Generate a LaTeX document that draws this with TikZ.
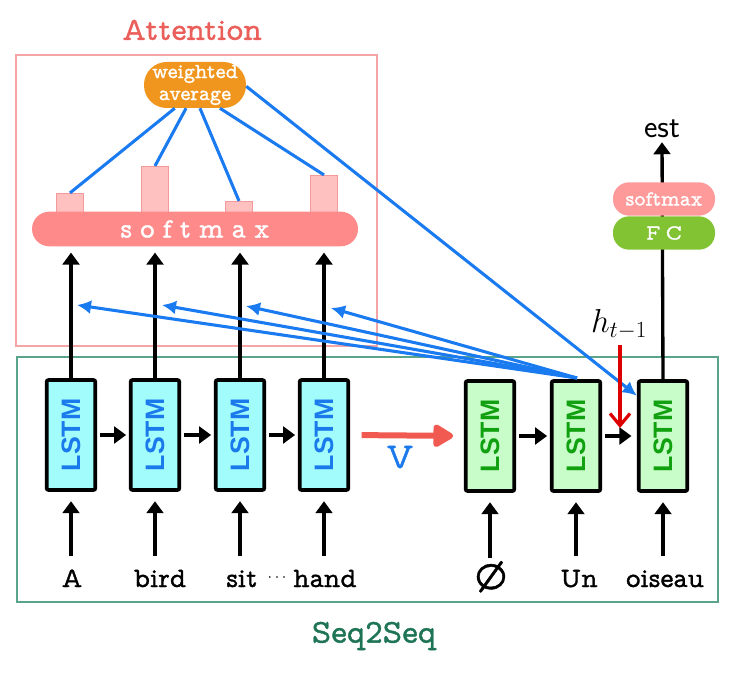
\documentclass[tikz,border=0pt]{standalone}
\usepackage{fontspec}
\usepackage{graphicx}
\newfontfamily\lstmfont{Liberation Sans}
\newfontfamily\tw{Latin Modern Mono Prop}[FakeBold=1.2]
\usetikzlibrary{arrows.meta,calc}
\definecolor{attnred}{HTML}{EB5F5A}
\definecolor{attnbox}{HTML}{F5A5A5}
\definecolor{wavgorange}{HTML}{F0961E}
\definecolor{smxpink}{HTML}{FF8A8A}
\definecolor{barfill}{HTML}{FFC0C0}
\definecolor{barline}{HTML}{F59A9A}
\definecolor{bluel}{HTML}{1A7AF0}
\definecolor{cyanfill}{HTML}{A2FCFC}
\definecolor{lstmblue}{HTML}{1A7AEB}
\definecolor{greenfill}{HTML}{C8FCC8}
\definecolor{lstmgreen}{HTML}{10A010}
\definecolor{seqbox}{HTML}{5AA58A}
\definecolor{seqtext}{HTML}{1E7455}
\definecolor{vred}{HTML}{F05A50}
\definecolor{hred}{HTML}{DD0000}
\definecolor{fcgreen}{HTML}{82C334}
\definecolor{smxtwo}{HTML}{FF9A9A}
\tikzset{
  lstmE/.style={draw=black, line width=2.8pt, fill=cyanfill, rounded corners=1.5pt,
    minimum width=36.5pt, minimum height=82.5pt, inner sep=0pt, text=lstmblue,
    font=\lstmfont\bfseries\fontsize{20}{20}\selectfont},
  lstmD/.style={lstmE, fill=greenfill, text=lstmgreen},
  word/.style={font=\tw\fontsize{21}{22}\selectfont, inner sep=0pt, anchor=base, text height=14pt, text depth=4pt},
  arr/.style={line width=2.5pt, -{Triangle[length=9pt,width=12.5pt]}},
  attnline/.style={bluel, line width=2.3pt},
  attnarr/.style={bluel, line width=2.3pt, -{Latex[length=10.5pt,width=10.5pt]}},
  barbox/.style={draw=barline, fill=barfill, line width=0.8pt, minimum width=20pt, inner sep=0pt, anchor=south},
  pill/.style={text=white, inner sep=0pt, font=\tw\fontsize{16}{18}\selectfont},
  frame/.style={inner sep=0pt, line width=0.8pt},
}
\begin{document}
\begin{tikzpicture}[x=0.75pt,y=-0.75pt]
\useasboundingbox (0,0) rectangle (742,677);

% frames
\node[frame, draw=attnbox, minimum width=270.75pt, minimum height=218.25pt] (attnframe) at (196.5,200.5) {};
\node[frame, draw=seqbox, minimum width=525.75pt, minimum height=183.75pt] (seqframe) at (367.5,479.5) {};
\node[text=attnred, font=\tw\fontsize{24}{26}\selectfont] (attntitle) at (192,30) {Attention};
\node[text=seqtext, font=\tw\fontsize{25}{27}\selectfont] (seqtitle) at (374,636) {Seq2Seq};

% LSTM nodes
\node[lstmE] (enc1) at (71,435) {\rotatebox{90}{LSTM}};
\node[lstmE] (enc2) at (155,435) {\rotatebox{90}{LSTM}};
\node[lstmE] (enc3) at (240,435) {\rotatebox{90}{LSTM}};
\node[lstmE] (enc4) at (324,435) {\rotatebox{90}{LSTM}};
\node[lstmD] (dec1) at (490,436) {\rotatebox{90}{LSTM}};
\node[lstmD] (dec2) at (576,436) {\rotatebox{90}{LSTM}};
\node[lstmD] (dec3) at (663,436) {\rotatebox{90}{LSTM}};

% words
\node[word] (wA) at (72,587) {A};
\node[word] (wbird) at (160,587) {bird};
\node[word] (wsit) at (242,587) {sit};
\node[inner sep=0pt, font=\fontsize{13}{13}\selectfont] (wdots) at (277,578) {$\cdots$};
\node[word] (whand) at (325,587) {hand};
\node[word, font=\tw\fontsize{30}{32}\selectfont] (wnull) at (491,589) {\O};
\node[word] (wUn) at (579,587) {Un};
\node[word] (woiseau) at (665,587) {oiseau};

% input arrows
\foreach \w/\e in {wA/enc1, wbird/enc2, wsit/enc3, whand/enc4, wnull/dec1, wUn/dec2, woiseau/dec3}
  \draw[arr, shorten <=9pt, shorten >=7pt] (\w.north -| \e.south) -- (\e.south);

% recurrent arrows
\draw[arr, shorten <=2pt, shorten >=2pt] (enc1.east) -- (enc2.west);
\draw[arr, shorten <=2pt, shorten >=2pt] (enc2.east) -- (enc3.west);
\draw[arr, shorten <=2pt, shorten >=2pt] (enc3.east) -- (enc4.west);
\draw[arr, shorten <=2pt, shorten >=2pt] (dec1.east) -- (dec2.west);
\draw[arr, shorten <=2pt, shorten >=4pt] (dec2.east) -- (dec3.west);

% context vector arrow
\draw[vred, line width=4.5pt, -{Triangle[length=17pt,width=19pt,round]}, shorten <=8.5pt, shorten >=8pt] (enc4.east) -- (dec1.west);
\node[text=lstmblue, font=\tw\fontsize{27}{28}\selectfont] (vlabel) at (400,457) {V};

% attention bars and softmax
\node[barbox, minimum height=19.5pt] (bar1) at (70,220) {};
\node[barbox, minimum height=39.75pt] (bar2) at (155,220) {};
\node[barbox, minimum height=13.5pt] (bar3) at (239,220) {};
\node[barbox, minimum height=33pt] (bar4) at (324,220) {};
\node[fill=smxpink, rounded corners=13pt, minimum width=244.5pt, minimum height=26pt, inner sep=0pt,
  text=white, font=\tw\fontsize{21}{22}\selectfont] (smx) at (195,229)
  {s\hspace{6pt}o\hspace{6pt}f\hspace{6pt}t\hspace{6pt}m\hspace{6pt}a\hspace{6pt}x};

% vertical encoder outputs to softmax
\foreach \e in {enc1,enc2,enc3,enc4}
  \draw[arr, shorten >=4.5pt] (\e.north) -- (\e.north |- smx.south);

% weighted average
\node[pill, fill=wavgorange, rounded corners=17pt, minimum width=76.5pt, minimum height=34.5pt, align=center,
  font=\tw\fontsize{16}{16.5}\selectfont] (wavg) at (195,85) {weighted\\average};
\draw[attnline] (wavg.229) -- (bar1.north);
\draw[attnline] (wavg.249) -- (bar2.north);
\draw[attnline] (wavg.282) -- (bar3.north);
\draw[attnline] (wavg.317) -- (bar4.north);

% attention arrows from decoder state back to encoder outputs
\coordinate (t1) at (77,305);
\coordinate (t2) at (162,305);
\coordinate (t3) at (246,306);
\coordinate (t4) at (331,308);
\coordinate (src) at (577,378);
\foreach \t in {t1,t2,t3,t4}
  \draw[attnarr] (src) -- (\t);
\draw[attnarr] ([yshift=-1pt]wavg.east) -- (dec3.123);

% decoder output
\node[font=\sffamily\fontsize{24}{26}\selectfont, inner sep=1pt] (est) at (662,129) {est};
\draw[arr, shorten >=2pt] (dec3.north) -- (est.south);
\node[pill, fill=smxtwo, rounded corners=12pt, minimum width=76.5pt, minimum height=25pt] (smx2) at (664,199) {softmax};
\node[pill, fill=fcgreen, rounded corners=12pt, minimum width=76.5pt, minimum height=25pt] (fc) at (664,233) {F\hspace{4pt}C};

% previous hidden state
\node[font=\fontsize{25}{27}\selectfont, inner sep=0pt] (hprev) at (619,324) {$h_{t-1}$};
\coordinate (hend) at (620,428);
\draw[hred, line width=2.4pt, -{Straight Barb[length=9pt,width=15pt]}] (hprev.south -| hend) ++(0,6) -- (hend);
\end{tikzpicture}
\end{document}
